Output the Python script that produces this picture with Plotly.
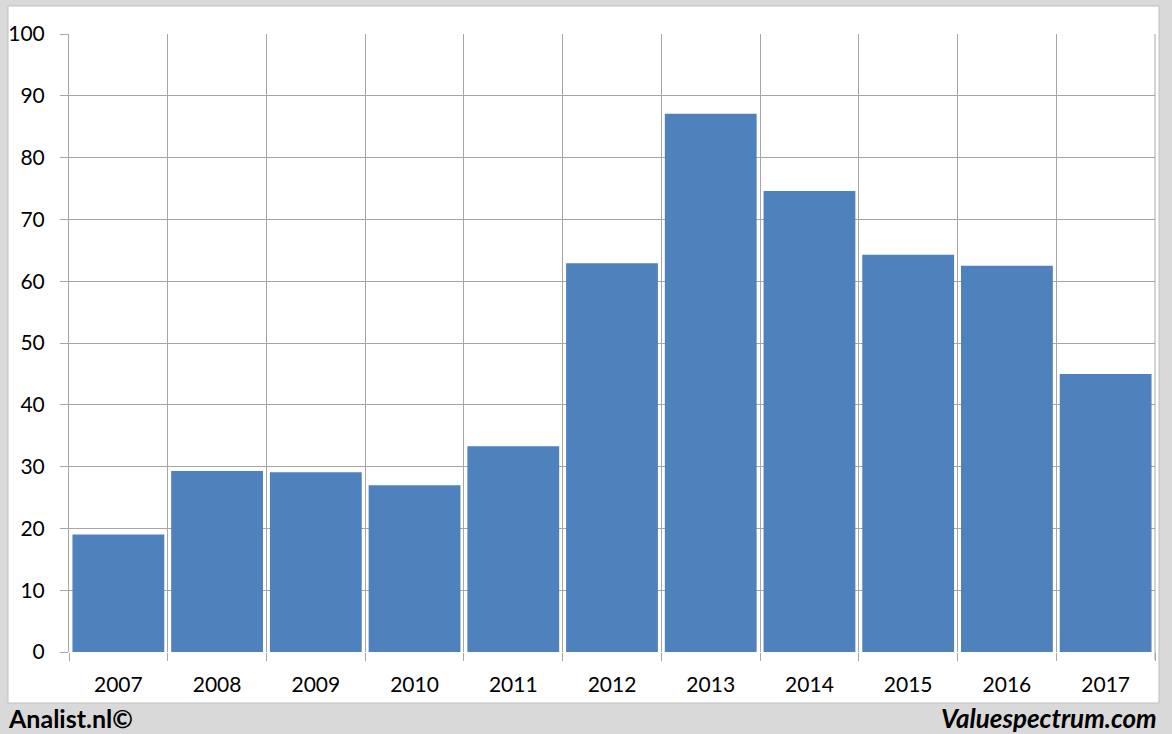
import plotly.graph_objects as go

years = ["2007", "2008", "2009", "2010", "2011", "2012", "2013", "2014", "2015", "2016", "2017"]
values = [19.0, 29.3, 29.1, 27.0, 33.3, 62.9, 87.1, 74.6, 64.3, 62.5, 45.0]
y_ticks = [0, 10, 20, 30, 40, 50, 60, 70, 80, 90, 100]

W, H = 1172, 734
L, R, T, B = 69, 17, 34, 82
pw, ph = W - L - R, H - T - B

def px(x):
    return (x - L) / pw

def py(y):
    return (H - B - y) / ph

positions = list(range(len(years)))

fig = go.Figure()
fig.add_trace(go.Bar(
    x=positions, y=values, width=0.93,
    marker=dict(color="#4f81bd", line=dict(width=0)),
    hoverinfo="skip",
))

font_family = "Lato, 'Open Sans', sans-serif"
grid = "#a6a6a6"

fig.update_layout(
    width=W, height=H,
    margin=dict(l=L, r=R, t=T, b=B, pad=0, autoexpand=False),
    paper_bgcolor="#d9d9d9",
    plot_bgcolor="white",
    showlegend=False,
    font=dict(family=font_family, size=21, color="#000000"),
    xaxis=dict(
        range=[-0.5, len(years) - 0.5],
        tickmode="array", tickvals=positions, ticktext=years,
        showgrid=False, ticks="", zeroline=False,
        showline=False, automargin=False,
        ticklabelstandoff=18,
        minor=dict(tick0=0.5, dtick=1, showgrid=True, gridcolor=grid, gridwidth=1,
                   ticks="outside", ticklen=8, tickcolor=grid),
        fixedrange=True,
    ),
    yaxis=dict(
        range=[0, 100], tickmode="array", tickvals=y_ticks,
        showgrid=True, gridcolor=grid, gridwidth=1,
        ticks="outside", ticklen=8, tickcolor=grid,
        showline=True, linecolor=grid, linewidth=1,
        zeroline=False, ticklabelstandoff=11, automargin=False,
        fixedrange=True,
    ),
    shapes=[
        dict(type="rect", xref="paper", yref="paper",
             x0=px(8), x1=px(1159), y0=py(703), y1=py(6),
             fillcolor="white", line=dict(color="#bfbfbf", width=1), layer="below"),
        dict(type="line", xref="paper", yref="paper",
             x0=1, x1=1, y0=0, y1=1, line=dict(color=grid, width=1), layer="above"),
        dict(type="line", xref="paper", yref="paper",
             x0=1, x1=1, y0=0, y1=py(660), line=dict(color=grid, width=1)),
    ],
    annotations=[
        dict(text="<b>Analist.nl©</b>", xref="paper", yref="paper",
             x=px(6), y=py(718), xanchor="left", yanchor="middle",
             showarrow=False, font=dict(size=25, family=font_family)),
        dict(text="<b><i>Valuespectrum.com</i></b>", xref="paper", yref="paper",
             x=px(1159), y=py(718), xanchor="right", yanchor="middle",
             showarrow=False, font=dict(size=26, family=font_family)),
    ],
)

fig.write_html("out.html", config={"displayModeBar": False},
               post_script="document.body.style.margin='0';")
